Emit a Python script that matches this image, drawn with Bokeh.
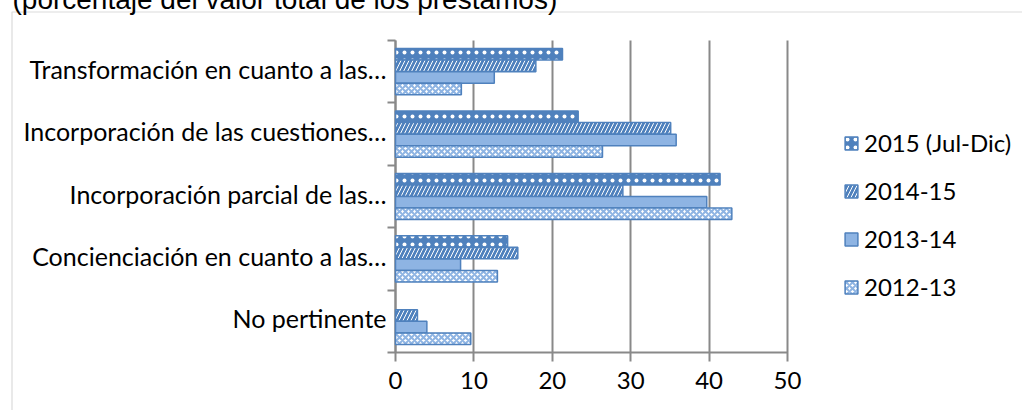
from bokeh.plotting import figure
from bokeh.models import (Range1d, FixedTicker, ColumnDataSource, Legend, LegendItem,
                          BoxAnnotation, Label, LinearAxis, Grid)
from bokeh.embed import file_html
from bokeh.resources import INLINE

# ---- data ----
categories = ["No pertinente",
              "Concienciación en cuanto a las…",
              "Incorporación parcial de las…",
              "Incorporación de las cuestiones…",
              "Transformación en cuanto a las…"]
series = ["2015 (Jul-Dic)", "2014-15", "2013-14", "2012-13"]
v2015 = [0.0, 14.3, 41.4, 23.3, 21.3]
v2014_15 = [2.8, 15.6, 29.0, 35.1, 17.9]
v2013_14 = [4.0, 8.3, 39.7, 35.8, 12.6]
v2012_13 = [9.6, 13.0, 42.9, 26.4, 8.4]
x_ticks = [0, 10, 20, 30, 40, 50]
title_text = "(porcentaje del valor total de los préstamos)"

values = [v2015, v2014_15, v2013_14, v2012_13]

FONT = "Lato"
GRAY = "#898989"
BLUE = "#4F81BD"
LIGHT = "#8EB4E3"

# ---- layout (pixels on the page) ----
W, SHIFT = 1022, 8           # canvas starts 8px above the page top
H = 410 + SHIFT
X0_PX, X50_PX = 395.0, 787.0  # value 0 and 50 on the x axis
YB_PX, YT_PX = 352.0, 40.0    # bottom / top of the category band
ncat = len(categories)
kx = (X50_PX - X0_PX) / 50.0
ky = (YB_PX - YT_PX) / ncat


def dx(px):
    return (px - X0_PX) / kx


def dy(py):
    return (YB_PX - py) / ky


p = figure(width=W, height=H, output_backend="svg", toolbar_location=None,
           x_range=Range1d(dx(0), dx(W)), y_range=Range1d(dy(410), dy(-SHIFT)),
           x_axis_location=None, y_axis_location=None, min_border=0)
p.styles = {"margin-top": "-8px"}
p.center = [r for r in p.center if not isinstance(r, Grid)]
p.outline_line_color = None
p.background_fill_color = "white"
p.border_fill_color = "white"

offsets = [0.278, 0.093, -0.093, -0.278]
bar_h = 0.185
styles = [
    dict(fill_color=BLUE, hatch_pattern="dot", hatch_color="white", hatch_scale=8, hatch_weight=2),
    dict(fill_color=BLUE, hatch_pattern="right_diagonal_line", hatch_color="white", hatch_scale=8, hatch_weight=1.0),
    dict(fill_color=LIGHT),
    dict(fill_color="white", hatch_pattern="diagonal_cross", hatch_color=LIGHT, hatch_scale=6, hatch_weight=2),
]

renderers = []
for vals, off, st in zip(values, offsets, styles):
    ys = [i + 0.5 + off for i, v in enumerate(vals) if v > 0]
    xs = [v for v in vals if v > 0]
    src = ColumnDataSource(dict(y=ys, right=xs))
    r = p.hbar(y="y", left=0, right="right", height=bar_h, source=src,
               line_color=BLUE, line_width=1.5, **st)
    renderers.append(r)

# x axis (ticks reaching up act as the vertical grid lines)
xaxis = LinearAxis(fixed_location=0, bounds=(0, 50), ticker=FixedTicker(ticks=x_ticks),
                   level="underlay")
xaxis.major_tick_out = 9
xaxis.major_tick_in = int(YB_PX - YT_PX)
xaxis.minor_tick_line_color = None
xaxis.axis_line_color = GRAY
xaxis.axis_line_width = 2
xaxis.major_tick_line_color = GRAY
xaxis.major_tick_line_width = 2
xaxis.major_label_text_font = FONT
xaxis.major_label_text_font_size = "24px"
xaxis.major_label_text_color = "black"
xaxis.major_label_standoff = 10
p.add_layout(xaxis, "below")

label_pos = [i + 0.5 + 3.0 / ky for i in range(ncat)]
bounds = [float(i) for i in range(ncat + 1)]
yaxis = LinearAxis(fixed_location=0, bounds=(0, ncat),
                   ticker=FixedTicker(ticks=label_pos, minor_ticks=bounds), level="underlay")
yaxis.major_label_overrides = {c: cat for c, cat in zip(label_pos, categories)}
yaxis.major_tick_out = 0
yaxis.major_tick_in = 0
yaxis.minor_tick_out = 8
yaxis.minor_tick_in = 0
yaxis.minor_tick_line_color = GRAY
yaxis.minor_tick_line_width = 2
yaxis.axis_line_color = GRAY
yaxis.axis_line_width = 2
yaxis.major_label_text_font = FONT
yaxis.major_label_text_font_size = "25px"
yaxis.major_label_text_color = "black"
yaxis.major_label_standoff = 1
p.add_layout(yaxis, "left")

legend = Legend(items=[LegendItem(label=s, renderers=[r]) for s, r in zip(series, renderers)],
                location=(843, H - (301 + SHIFT)), orientation="vertical",
                glyph_width=16, glyph_height=16, label_height=20, spacing=19,
                padding=0, margin=0, border_line_color=None, background_fill_alpha=0,
                label_standoff=5, label_text_font=FONT, label_text_font_size="24px",
                label_text_color="black")
p.add_layout(legend, "center")

# outer chart border (only its left and top edges lie inside the picture)
p.add_layout(BoxAnnotation(left=dx(11.5), right=dx(W + 20), top=dy(11.5), bottom=dy(440),
                           fill_alpha=0, line_color=GRAY, line_width=1.2))

p.add_layout(Label(x=12, y=H - SHIFT + 1, x_units="screen", y_units="screen",
                   text=title_text, text_font="Liberation Sans", text_font_size="28px",
                   text_color="black", text_baseline="alphabetic"))

open("out.html", "w").write(file_html(p, INLINE))
